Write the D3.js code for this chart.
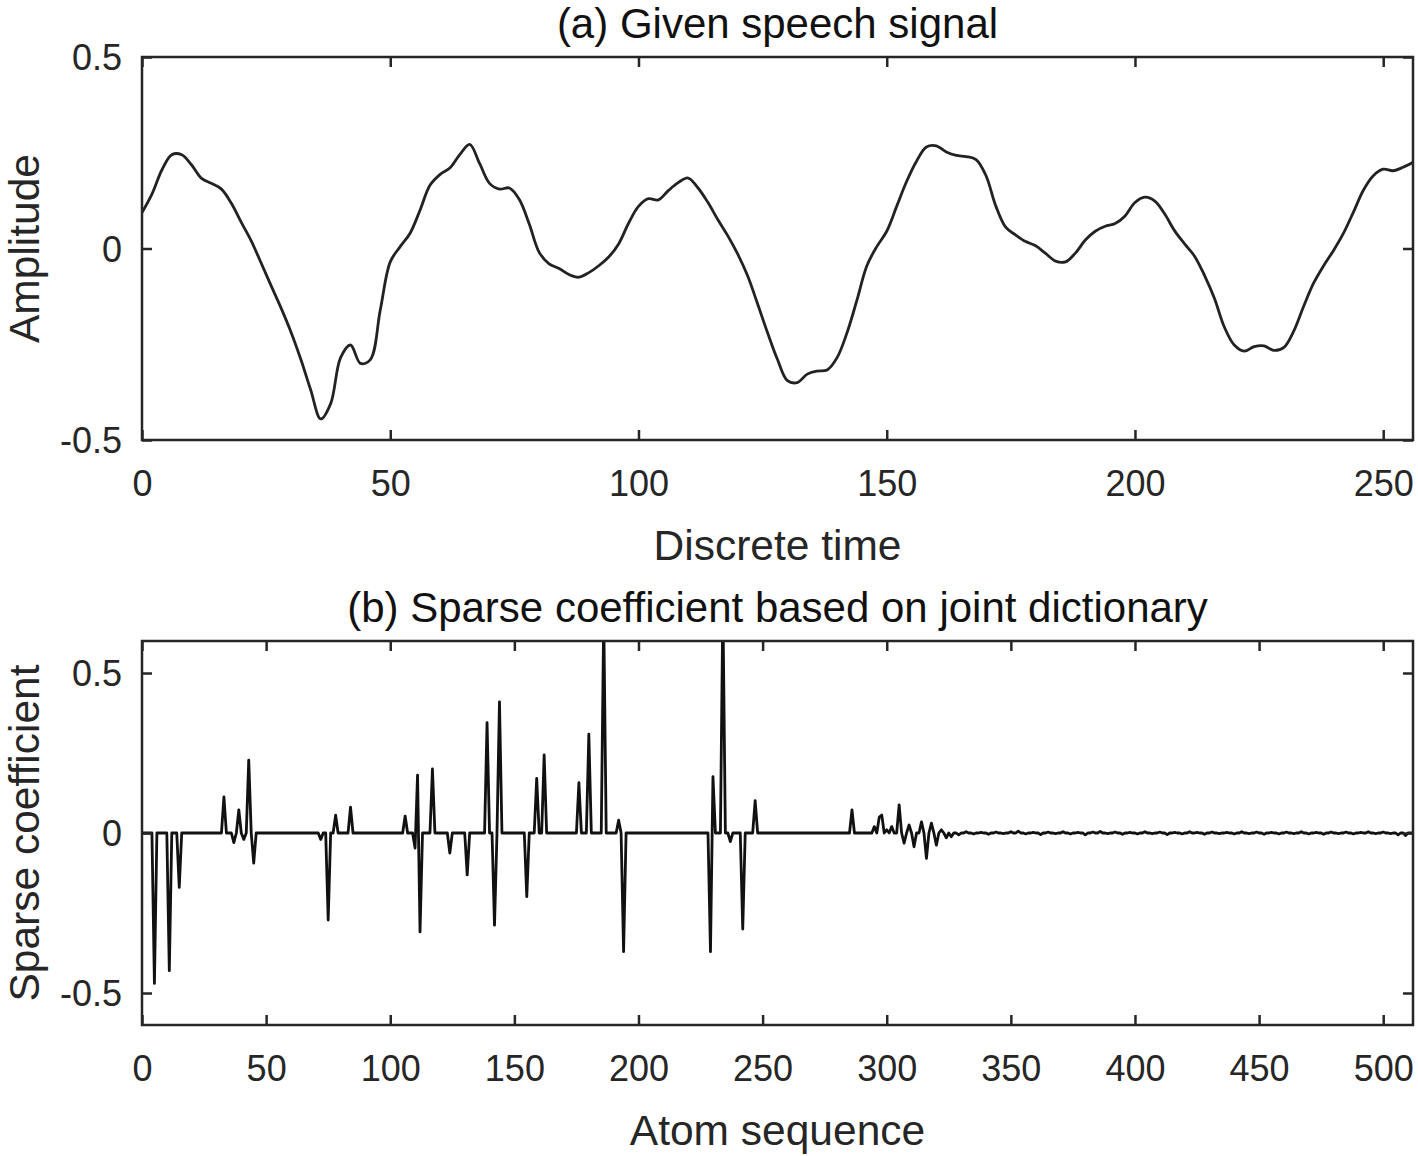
<!DOCTYPE html>
<html>
<head>
<meta charset="utf-8">
<script src="https://cdn.jsdelivr.net/npm/d3@7"></script>
<style>
  body { margin: 0; background: #fff; }
  svg text { font-family: "Liberation Sans", Arial, Helvetica, sans-serif; }
</style>
</head>
<body>
<svg id="chart" width="1418" height="1156"></svg>
<script>
// speech signal, read every 2nd sample (0..256)
var speechStep = 2;
var speech = [
  0.094, 0.142, 0.205, 0.245, 0.245, 0.218, 0.183, 0.170, 0.155, 0.118,
  0.068, 0.020, -0.038, -0.097, -0.155, -0.218, -0.290, -0.370, -0.445, -0.405,
  -0.285, -0.252, -0.300, -0.290, -0.160, -0.035, 0.005, 0.040, 0.100, 0.165,
  0.193, 0.210, 0.245, 0.272, 0.222, 0.170, 0.155, 0.158, 0.128, 0.064,
  -0.010, -0.040, -0.052, -0.068, -0.075, -0.063, -0.045, -0.022, 0.012, 0.066,
  0.110, 0.130, 0.127, 0.151, 0.172, 0.184, 0.158, 0.120, 0.075, 0.033,
  -0.015, -0.072, -0.145, -0.220, -0.290, -0.345, -0.350, -0.328, -0.320, -0.317,
  -0.285, -0.220, -0.135, -0.045, 0.005, 0.045, 0.110, 0.175, 0.228, 0.265,
  0.268, 0.252, 0.243, 0.240, 0.232, 0.190, 0.110, 0.055, 0.035, 0.018,
  0.007, -0.013, -0.033, -0.035, -0.012, 0.022, 0.045, 0.058, 0.065, 0.085,
  0.120, 0.134, 0.124, 0.090, 0.046, 0.012, -0.020, -0.070, -0.130, -0.205,
  -0.252, -0.268, -0.256, -0.254, -0.266, -0.258, -0.215, -0.150, -0.090, -0.045,
  -0.005, 0.040, 0.095, 0.152, 0.190, 0.207, 0.203, 0.212, 0.225
];

// non-zero sparse coefficients (atom index, value); all other atoms are 0
var atomIdx = [5, 11, 15, 33, 37, 39, 41, 43, 45, 72, 75, 78, 84, 106, 110, 111, 112, 117, 124, 131,
  139, 142, 144, 155, 159, 162, 176, 180, 186, 192, 194, 229, 230, 234, 237, 242, 247,
  286, 295, 297, 298, 300, 302, 305, 307, 309, 311, 314, 316, 318, 320, 322, 324];
var atomVal = [-0.47, -0.43, -0.17, 0.113, -0.03, 0.072, -0.02, 0.228, -0.094, -0.02, -0.272, 0.056, 0.081, 0.053, -0.047, 0.181, -0.309, 0.2, -0.063, -0.131,
  0.345, -0.288, 0.41, -0.199, 0.171, 0.244, 0.157, 0.309, 0.68, 0.04, -0.371, -0.371, 0.176, 0.72, -0.027, -0.3, 0.101,
  0.072, 0.02, 0.05, 0.056, 0.01, 0.02, 0.088, -0.032, 0.025, -0.043, 0.035, -0.079, 0.031, -0.038, 0.01, -0.015];
// small ripple on the tail, every 3rd atom from 326
var tailStart = 326, tailStep = 3;
var tailVal = [-0.012, -0.006, 0.004, -0.003, 0.002, -0.004, 0.003, -0.002, 0.004, 0.006,
  -0.003, 0.002, -0.005, 0.003, -0.002, 0.004, -0.003, 0.002, -0.006, 0.003,
  0.005, -0.002, 0.003, -0.004, 0.002, -0.003, 0.004, -0.002, 0.003, -0.005,
  0.002, -0.003, 0.004, 0.002, -0.004, 0.003, -0.002, 0.002, -0.003, 0.004,
  -0.002, 0.003, -0.004, 0.002, -0.003, 0.003, -0.002, 0.004, -0.003, 0.002,
  -0.004, 0.003, -0.002, 0.003, -0.003, 0.002, 0.004, -0.002, 0.003, -0.002, -0.006, -0.008];

var topXTicks = [0, 50, 100, 150, 200, 250];
var topYTicks = [-0.5, 0, 0.5];
var botXTicks = [0, 50, 100, 150, 200, 250, 300, 350, 400, 450, 500];
var botYTicks = [-0.5, 0, 0.5];

var svg = d3.select("#chart");
var axisColor = "#262626";

// build sparse series 0..512
var coefMap = new Map();
atomIdx.forEach(function (a, i) { coefMap.set(a, atomVal[i]); });
tailVal.forEach(function (v, i) { coefMap.set(tailStart + i * tailStep, v); });
var coefs = d3.range(0, 513).map(function (a) { return [a, coefMap.get(a) || 0]; });
var speechPts = speech.map(function (v, i) { return [i * speechStep, v]; });

function panel(opt) {
  var x = d3.scaleLinear().domain(opt.xDomain).range([opt.left, opt.right]);
  var y = d3.scaleLinear().domain(opt.yDomain).range([opt.bottom, opt.top]);
  var g = svg.append("g");
  var clipId = "clip" + opt.id;
  svg.append("clipPath").attr("id", clipId)
    .append("rect")
    .attr("x", opt.left).attr("y", opt.top)
    .attr("width", opt.right - opt.left).attr("height", opt.bottom - opt.top);

  // the data line
  g.append("path")
    .datum(opt.data)
    .attr("clip-path", "url(#" + clipId + ")")
    .attr("fill", "none")
    .attr("stroke", opt.lineColor)
    .attr("stroke-width", opt.lineWidth)
    .attr("stroke-linejoin", "round")
    .attr("d", d3.line()
      .x(function (d) { return x(d[0]); })
      .y(function (d) { return y(d[1]); })
      .curve(opt.curve));

  // axes, ticks pointing inward on all four sides
  var fmt = function (d) { return String(d); };  // plain hyphen like matlab
  var bottomAx = g.append("g").attr("transform", "translate(0," + opt.bottom + ")")
    .call(d3.axisBottom(x).tickValues(opt.xTicks).tickSize(-10).tickPadding(30).tickFormat(fmt));
  var topAx = g.append("g").attr("transform", "translate(0," + opt.top + ")")
    .call(d3.axisTop(x).tickValues(opt.xTicks).tickSize(-10).tickFormat(""));
  var leftAx = g.append("g").attr("transform", "translate(" + opt.left + ",0)")
    .call(d3.axisLeft(y).tickValues(opt.yTicks).tickSize(-10).tickPadding(20).tickFormat(fmt));
  var rightAx = g.append("g").attr("transform", "translate(" + opt.right + ",0)")
    .call(d3.axisRight(y).tickValues(opt.yTicks).tickSize(-10).tickFormat(""));

  [bottomAx, topAx, leftAx, rightAx].forEach(function (a) {
    a.select(".domain").remove();
    a.selectAll(".tick line").attr("stroke", axisColor).attr("stroke-width", 2.5);
    a.selectAll(".tick text")
      .attr("fill", axisColor)
      .style("font-size", "36px");
  });
  bottomAx.selectAll(".tick text").attr("dy", "0.71em");
  leftAx.selectAll(".tick text").attr("dy", "0.36em");

  g.append("rect")
    .attr("x", opt.left).attr("y", opt.top)
    .attr("width", opt.right - opt.left).attr("height", opt.bottom - opt.top)
    .attr("fill", "none")
    .attr("stroke", axisColor)
    .attr("stroke-width", 2.5);

  // title and labels
  var cx = (opt.left + opt.right) / 2, cy = (opt.top + opt.bottom) / 2;
  g.append("text")
    .attr("x", cx).attr("y", opt.top - 19)
    .attr("text-anchor", "middle")
    .attr("fill", "#111")
    .style("font-size", "42px")
    .text(opt.title);
  g.append("text")
    .attr("x", cx).attr("y", opt.bottom + 120)
    .attr("text-anchor", "middle")
    .attr("fill", axisColor)
    .style("font-size", "42.5px")
    .text(opt.xLabel);
  g.append("text")
    .attr("transform", "translate(39," + cy + ") rotate(-90)")
    .attr("text-anchor", "middle")
    .attr("fill", axisColor)
    .style("font-size", "42.5px")
    .text(opt.yLabel);
}

panel({
  id: "a", left: 142, right: 1413, top: 57, bottom: 440,
  xDomain: [0, 256], yDomain: [-0.5, 0.5],
  xTicks: topXTicks, yTicks: topYTicks,
  data: speechPts, curve: d3.curveCatmullRom.alpha(0.5),
  lineColor: "#222", lineWidth: 2.8,
  title: "(a) Given speech signal", xLabel: "Discrete time", yLabel: "Amplitude"
});

panel({
  id: "b", left: 142, right: 1413, top: 641, bottom: 1025,
  xDomain: [0, 512], yDomain: [-0.6, 0.6],
  xTicks: botXTicks, yTicks: botYTicks,
  data: coefs, curve: d3.curveLinear,
  lineColor: "#111", lineWidth: 2.8,
  title: "(b) Sparse coefficient based on joint dictionary", xLabel: "Atom sequence", yLabel: "Sparse coefficient"
});
</script>
</body>
</html>
